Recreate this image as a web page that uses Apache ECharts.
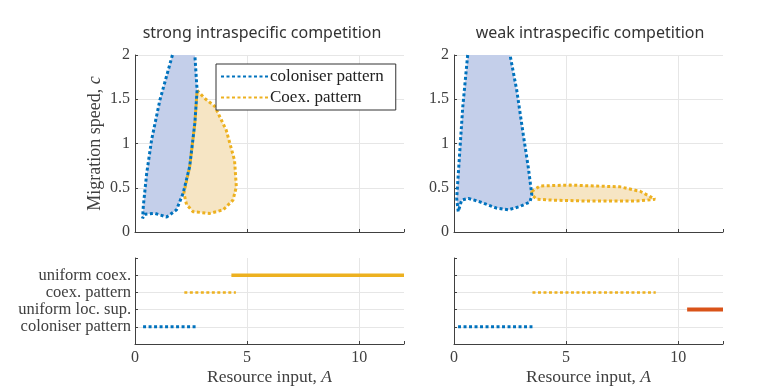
<!DOCTYPE html>
<html><head><meta charset="utf-8">
<script src="https://cdn.jsdelivr.net/npm/echarts@6/dist/echarts.min.js"></script>
<style>html,body{margin:0;padding:0;background:#fff}#c{width:762px;height:388px}</style>
</head><body><div id="c"></div>
<script>
const titles = ['strong intraspecific competition', 'weak intraspecific competition'];
const legendNames = ['coloniser pattern', 'Coex. pattern'];
const stateLabels = ['coloniser pattern', 'uniform loc. sup.', 'coex. pattern', 'uniform coex.'];
const topYTicks = [0, 0.5, 1, 1.5, 2];
const xTickValues = [0, 5, 10];

// region outlines (A, c)
const strongColoniserRegion = [[1.67,2],[1.11,1.49],[0.74,1.04],[0.52,0.66],[0.37,0.29],[0.34,0.155],[0.44,0.2],[0.89,0.21],[1.41,0.17],[1.85,0.25],[2.15,0.44],[2.44,0.74],[2.67,1.23],[2.77,1.6],[2.67,2]];
const strongCoexRegion = [[2.77,1.6],[3.11,1.51],[3.56,1.42],[4.07,1.15],[4.44,0.81],[4.52,0.51],[4.37,0.36],[3.93,0.25],[3.33,0.21],[2.59,0.23],[2.30,0.31],[2.18,0.44],[2.44,0.74],[2.67,1.23],[2.77,1.6]];
const weakColoniserRegion = [[0.61,2],[0.39,1.41],[0.24,0.84],[0.12,0.38],[0.19,0.23],[0.34,0.36],[0.64,0.38],[1.16,0.34],[1.9,0.27],[2.43,0.25],[2.95,0.29],[3.39,0.34],[3.47,0.42],[3.32,0.72],[3.09,1.1],[2.8,1.6],[2.5,2]];
const weakCoexRegion = [[3.47,0.46],[3.84,0.52],[5.18,0.53],[7.41,0.51],[8.3,0.46],[8.97,0.37],[8.15,0.35],[5.92,0.35],[4.43,0.36],[3.69,0.37],[3.47,0.42],[3.47,0.46]];

// state ranges in A (bottom panels)
const strongColoniserRange = [0.36, 2.8];
const strongCoexPatternRange = [2.2, 4.5];
const strongUniformCoexRange = [4.3, 12];
const weakColoniserRange = [0.18, 3.5];
const weakCoexPatternRange = [3.5, 9.0];
const weakUniformLocSupRange = [10.4, 12];

const BLUE = '#0072BD', ORANGE = '#EDB120', RED = '#D95319';
const BLUE_FILL = '#c4cfea', ORANGE_FILL = '#f6e5c4';
const SERIF = '"Liberation Serif", "Times New Roman", serif';
const SANS = '"Noto Sans", "Open Sans", sans-serif';
const AX = '#404040';
const DOT = [3, 2.5];

const chart = echarts.init(document.getElementById('c'));

const grids = [
  {left: 135, top: 55, width: 269, height: 177},
  {left: 454, top: 55, width: 269, height: 177},
  {left: 135, top: 258, width: 269, height: 86},
  {left: 454, top: 258, width: 269, height: 86}
];

function xAxis(i, showLabels) {
  return {
    type: 'value', gridIndex: i, min: 0, max: 12, interval: 5,
    axisLine: {show: true, onZero: false, lineStyle: {color: AX, width: 1}},
    axisTick: {show: true, inside: true, length: 3, lineStyle: {color: AX}},
    axisLabel: {show: showLabels, margin: 6, color: AX, fontFamily: SERIF, fontSize: 16,
      formatter: v => xTickValues.includes(v) ? String(v) : ''},
    splitLine: {show: true, showMaxLine: false, lineStyle: {color: '#e6e6e6'}},
    name: showLabels ? '{n|Resource input, }{i|A}' : '',
    nameLocation: 'middle', nameGap: 24,
    nameTextStyle: {rich: {
      n: {fontFamily: SERIF, fontSize: 17.5, color: AX},
      i: {fontFamily: SERIF, fontSize: 17.5, color: AX, fontStyle: 'italic'}
    }}
  };
}

function topYAxis(i, withName) {
  return {
    type: 'value', gridIndex: i, min: 0, max: 2, interval: 0.5,
    axisLine: {show: true, onZero: false, lineStyle: {color: AX, width: 1}},
    axisTick: {show: true, inside: true, length: 3, lineStyle: {color: AX}},
    axisLabel: {color: AX, fontFamily: SERIF, fontSize: 16, margin: 5,
      formatter: v => topYTicks.includes(v) ? String(v) : ''},
    splitLine: {show: true, lineStyle: {color: '#e6e6e6'}},
    name: withName ? '{n|Migration speed, }{i|c}' : '',
    nameLocation: 'middle', nameGap: 31,
    nameTextStyle: {rich: {
      n: {fontFamily: SERIF, fontSize: 18, color: AX},
      i: {fontFamily: SERIF, fontSize: 18, color: AX, fontStyle: 'italic'}
    }}
  };
}

function bottomYAxis(i, withLabels) {
  return {
    type: 'value', gridIndex: i, min: 0, max: 5, interval: 1,
    axisLine: {show: true, onZero: false, lineStyle: {color: AX, width: 1}},
    axisTick: {show: true, inside: true, length: 3, lineStyle: {color: AX}},
    axisLabel: {show: withLabels, color: AX, fontFamily: SERIF, fontSize: 16.5, margin: 4,
      formatter: v => (v >= 1 && v <= 4) ? stateLabels[v - 1] : ''},
    splitLine: {show: true, showMinLine: false, showMaxLine: false, lineStyle: {color: '#e6e6e6'}}
  };
}

function fill(i, pts, color, z) {
  return {
    type: 'custom', xAxisIndex: i, yAxisIndex: i, z: z, silent: true,
    data: [[pts[0][0], pts[0][1]]],
    renderItem: (params, api) => ({
      type: 'polygon',
      shape: {points: pts.map(p => api.coord(p))},
      style: {fill: color}
    })
  };
}

function outline(i, name, pts, color, z) {
  return {
    type: 'line', name: name, xAxisIndex: i, yAxisIndex: i, z: z,
    data: pts, symbol: 'none', showSymbol: false, smooth: false, silent: true,
    itemStyle: {color: color},
    lineStyle: {color: color, width: 3, type: DOT, cap: 'butt'}
  };
}

function seg(i, range, level, color, dotted, width) {
  return {
    type: 'line', xAxisIndex: i, yAxisIndex: i, z: 5, symbol: 'none', silent: true,
    data: [[range[0], level], [range[1], level]],
    itemStyle: {color: color},
    lineStyle: {color: color, width: width, type: dotted ? DOT : 'solid', cap: 'butt'}
  };
}

const option = {
  animation: false,
  backgroundColor: '#fff',
  title: [
    {text: titles[0], left: 257, top: 20, textAlign: 'center',
      textStyle: {fontFamily: SANS, fontWeight: 'normal', fontSize: 16, color: '#333'}},
    {text: titles[1], left: 585, top: 20, textAlign: 'center',
      textStyle: {fontFamily: SANS, fontWeight: 'normal', fontSize: 16, color: '#333'}}
  ],
  legend: {
    data: legendNames, orient: 'vertical', left: 216, top: 64,
    padding: [4, 12, 4, 4], itemGap: 4, itemWidth: 48, itemHeight: 12,
    backgroundColor: '#fff', borderColor: '#333', borderWidth: 1, borderRadius: 0,
    itemStyle: {opacity: 0},
    textStyle: {fontFamily: SERIF, fontSize: 17, color: '#222', padding: [0, 0, 0, -4]},
    selectedMode: false
  },
  grid: grids,
  xAxis: [xAxis(0, false), xAxis(1, false), xAxis(2, true), xAxis(3, true)],
  yAxis: [topYAxis(0, true), topYAxis(1, false), bottomYAxis(2, true), bottomYAxis(3, false)],
  series: [
    fill(0, strongColoniserRegion, BLUE_FILL, 1),
    fill(0, strongCoexRegion, ORANGE_FILL, 1),
    outline(0, legendNames[1], strongCoexRegion, ORANGE, 3),
    outline(0, legendNames[0], strongColoniserRegion, BLUE, 4),
    fill(1, weakColoniserRegion, BLUE_FILL, 1),
    fill(1, weakCoexRegion, ORANGE_FILL, 1),
    outline(1, 'weakCoex', weakCoexRegion, ORANGE, 3),
    outline(1, 'weakCol', weakColoniserRegion, BLUE, 4),
    seg(2, strongColoniserRange, 1, BLUE, true, 3),
    seg(2, strongCoexPatternRange, 3, ORANGE, true, 2.5),
    seg(2, strongUniformCoexRange, 4, ORANGE, false, 3.5),
    seg(3, weakColoniserRange, 1, BLUE, true, 3),
    seg(3, weakCoexPatternRange, 3, ORANGE, true, 2.5),
    seg(3, weakUniformLocSupRange, 2, RED, false, 4)
  ]
};
chart.setOption(option);
</script></body></html>
